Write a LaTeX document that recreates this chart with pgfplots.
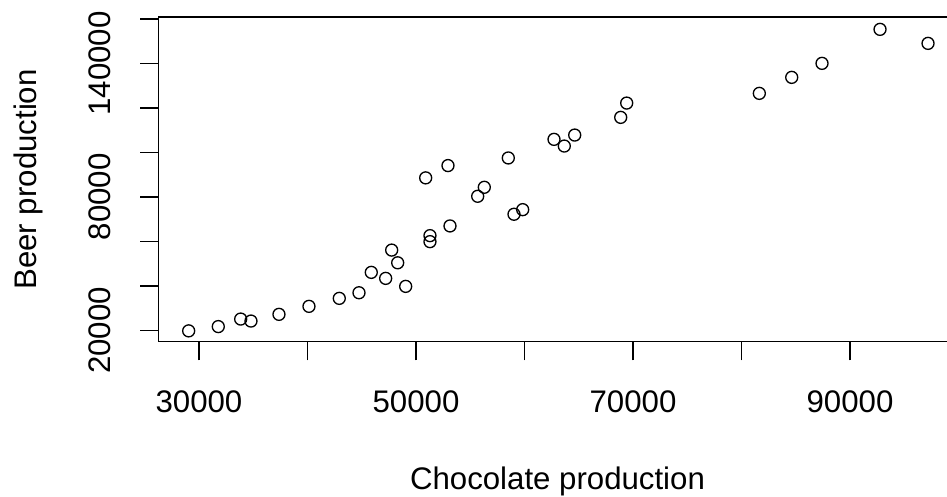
\documentclass[border=0pt]{standalone}
\usepackage{fontspec}
\setmainfont{Liberation Sans}
\usepackage{pgfplots}
\pgfplotsset{compat=1.18}
\begin{document}
\fontsize{23.4}{28}\selectfont
\begin{tikzpicture}
\useasboundingbox (-119.0pt,-115.7pt) rectangle (591.2pt,256.3pt);
\begin{axis}[
  at={(0,0)}, anchor=south west,
  scale only axis,
  width=598.2pt, height=243.5pt,
  xmin=26286, xmax=99797,
  ymin=14873, ymax=160900,
  scaled ticks=false,
  axis line style={line width=1pt, black},
  xtick={30000,40000,50000,60000,70000,80000,90000},
  xticklabels={30000,,50000,,70000,,90000},
  ytick={20000,40000,60000,80000,100000,120000,140000,160000},
  yticklabels={20000,,,80000,,,140000,},
  xtick pos=bottom, ytick pos=left,
  tick align=outside,
  major tick length=13.9pt,
  tick style={line width=1pt, black},
  xticklabel style={anchor=base, font=\fontsize{23.4}{28}\selectfont},
  xticklabel shift=39.1pt,
  yticklabel style={anchor=base, rotate=90, font=\fontsize{23.4}{28}\selectfont},
  yticklabel shift=22.6pt,
  xlabel={Chocolate production},
  ylabel={Beer production},
  every axis x label/.style={at={(axis description cs:0.5,0)}, anchor=base, yshift=-110.5pt, font=\fontsize{23.4}{28}\selectfont},
  every axis y label/.style={at={(axis description cs:-0.15296,0.5)}, rotate=90, anchor=base, font=\fontsize{23.4}{28}\selectfont},
  clip=false,
]
\addplot[only marks, mark=o, mark size=4.5pt, mark options={line width=1pt, black}] coordinates {
(29051,19775) (31779,21700) (33843,25080) (34793,24180) (37373,27200)
(40138,30800) (42931,34390) (44747,36910) (45880,46080) (47207,43380)
(47760,56100) (48313,50390) (49051,39780) (50894,88580) (52949,94110)
(51290,62600) (51290,59900) (53134,66960) (55687,80300) (56295,84350)
(58507,97530) (59032,72210) (59834,74280) (62719,105900) (63668,102890)
(64627,107830) (68866,115790) (69419,122220) (81641,126590) (84627,133780)
(87419,140080) (92765,155370) (97189,149070)
};
\end{axis}
\end{tikzpicture}
\end{document}
